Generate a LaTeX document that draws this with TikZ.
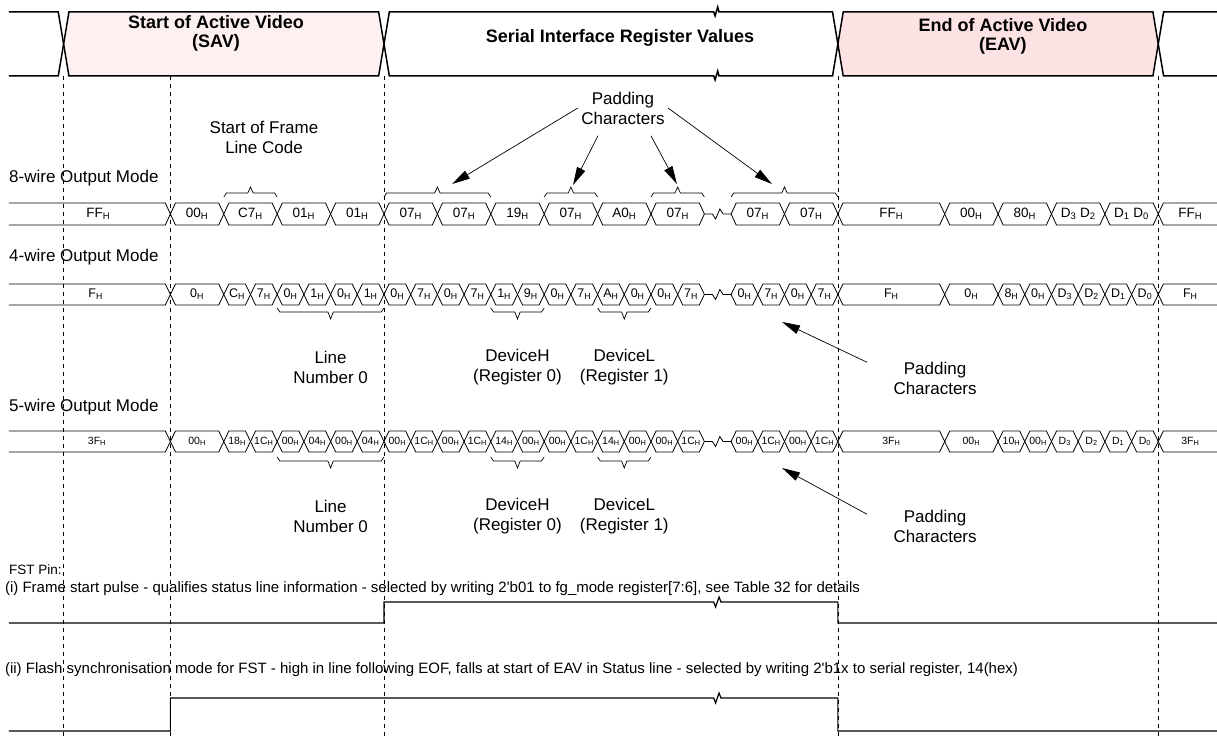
\documentclass[tikz,border=0pt]{standalone}
\usepackage{fontspec}
\setmainfont{Liberation Sans}
\usetikzlibrary{arrows.meta,positioning}
\newcommand{\hx}[1]{#1\textsubscript{H}}
\definecolor{savfill}{RGB}{253,240,240}
\definecolor{eavfill}{RGB}{252,226,226}
\tikzset{
  band/.style={line width=1.5pt},
  bus/.style={line width=0.8pt},
  wave/.style={line width=1.2pt},
  guide/.style={line width=0.6pt, dash pattern=on 4pt off 4pt},
  brk/.style={line width=0.7pt},
  callout/.style={line width=0.7pt, -{Triangle[length=18pt,width=9pt]}},
  ttl/.style={font=\fontsize{18}{19}\selectfont\bfseries, align=center},
  lbl/.style={font=\fontsize{17}{20}\selectfont, align=center},
  mode/.style={font=\fontsize{17}{20}\selectfont, anchor=west, inner sep=0pt},
  pin/.style={font=\fontsize{13.5}{16}\selectfont, anchor=west, inner sep=0pt},
  note/.style={font=\fontsize{15}{17}\selectfont, anchor=west, inner sep=0pt},
  hexa/.style={font=\fontsize{13.5}{13.5}\selectfont, inner sep=0pt},
  hexb/.style={font=\fontsize{12.5}{12.5}\selectfont, inner sep=0pt},
  hexc/.style={font=\fontsize{10.5}{10.5}\selectfont, inner sep=0pt},
}
\begin{document}
\begin{tikzpicture}[x=26.7pt, y=-1pt]
	\useasboundingbox (-2.382,0) rectangle (43.2,736);
	\def\dt{0.2}
	\def\dd{0.19}
	% guides
	\foreach \n in {0,4,12,29,41}
		\draw[guide] (\n,76) -- (\n,736);
	% top band
	\fill[savfill] (0,44) -- (\dt,12) -- (12-\dt,12) -- (12,44) -- (12-\dt,76) -- (\dt,76) -- cycle;
	\fill[eavfill] (29,44) -- (29+\dt,12) -- (41-\dt,12) -- (41,44) -- (41-\dt,76) -- (29+\dt,76) -- cycle;
	\draw[band] (-2.045,12) -- (-\dt,12) -- (0,44) -- (-\dt,76) -- (-2.045,76);
	\draw[band] (0,44) -- (\dt,12) -- (12-\dt,12) -- (12,44) -- (12-\dt,76) -- (\dt,76) -- cycle;
	\draw[band] (12,44) -- (12+\dt,12) -- (24.35,12) -- (24.4,16) -- (24.5,7) -- (24.55,12) -- (29-\dt,12) -- (29,44)
		-- (29-\dt,76) -- (24.55,76) -- (24.5,71) -- (24.4,80) -- (24.35,76) -- (12+\dt,76) -- cycle;
	\draw[band] (29,44) -- (29+\dt,12) -- (41-\dt,12) -- (41,44) -- (41-\dt,76) -- (29+\dt,76) -- cycle;
	\draw[band] (43.2,12) -- (41+\dt,12) -- (41,44) -- (41+\dt,76) -- (43.2,76);
	\node[ttl] (sav) at (5.71,33) {Start of Active Video\\(SAV)};
	\node[ttl] (sirv) at (20.84,38) {Serial Interface Register Values};
	\node[ttl] (eav) at (35.18,36) {End of Active Video\\(EAV)};
	% labels above 8-wire
	\node[lbl] (padtop) at (20.95,108) {Padding\\Characters};
	\node[lbl] (sof) at (7.506,137) {Start of Frame\\Line Code};
	\node[mode] (m8) at (-2.045,178) {8-wire Output Mode};
	\foreach \p/\q in {6/8,12/16,18/20,22/24,25/29}
		\draw[brk] (\p,197) -- (\p+0.1,193) -- ({(\p+\q)/2-0.1},193) -- ({(\p+\q)/2},187) -- ({(\p+\q)/2+0.1},193) -- (\q-0.1,193) -- (\q,197);
	\coordinate (t1) at (14.55,184);
	\coordinate (t2) at (19.08,185);
	\coordinate (t3) at (22.97,184);
	\coordinate (t4) at (26.53,184);
	\draw[callout] (padtop.west) -- (t1);
	\draw[callout] ([xshift=-25pt,yshift=-8pt]padtop.south) -- (t2);
	\draw[callout] ([xshift=28pt,yshift=-8pt]padtop.south) -- (t3);
	\draw[callout] (padtop.east) -- (t4);
	% 8-wire bus
	\draw[bus] (-2.045,203) -- (4-\dd,203) -- (4,214) -- (4-\dd,225) -- (-2.045,225);
	\node[hexa] (e0) at (1.3,214) {\hx{FF}};
	\foreach \p/\q/\t [count=\k] in {4/6/\hx{00},6/8/\hx{C7},8/10/\hx{01},10/12/\hx{01},12/14/\hx{07},14/16/\hx{07},
			16/18/\hx{19},18/20/\hx{07},20/22/\hx{A0},22/24/\hx{07},25/27/\hx{07},27/29/\hx{07},29/33/\hx{FF},
			33/35/\hx{00},35/37/\hx{80},37/39/{D\textsubscript{3} D\textsubscript{2}},39/41/{D\textsubscript{1} D\textsubscript{0}}} {
		\draw[bus] (\p,214) -- (\p+\dd,203) -- (\q-\dd,203) -- (\q,214) -- (\q-\dd,225) -- (\p+\dd,225) -- cycle;
		\node[hexa] (e\k) at ({(\p+\q)/2},214) {\t};
	}
	\draw[bus] (24,214) -- (24.3,214) -- (24.42,219) -- (24.58,209) -- (24.7,214) -- (25,214);
	\draw[bus] (43.2,203) -- (41+\dd,203) -- (41,214) -- (41+\dd,225) -- (43.2,225);
	\node[hexa] (e18) at (42.2,214) {\hx{FF}};
	% 4-wire bus
	\node[mode] (m4) at (-2.045,257) {4-wire Output Mode};
	\draw[bus] (-2.045,284) -- (4-\dd,284) -- (4,294.5) -- (4-\dd,305) -- (-2.045,305);
	\node[hexb] (f0) at (1.2,294.5) {\hx{F}};
	\foreach \p/\q/\t [count=\k] in {4/6/0,6/7/C,7/8/7,8/9/0,9/10/1,10/11/0,11/12/1,12/13/0,13/14/7,14/15/0,15/16/7,
			16/17/1,17/18/9,18/19/0,19/20/7,20/21/A,21/22/0,22/23/0,23/24/7,25/26/0,26/27/7,27/28/0,28/29/7,
			29/33/F,33/35/0,35/36/8,36/37/0} {
		\draw[bus] (\p,294.5) -- (\p+\dd,284) -- (\q-\dd,284) -- (\q,294.5) -- (\q-\dd,305) -- (\p+\dd,305) -- cycle;
		\node[hexb] (f\k) at ({(\p+\q)/2},294.5) {\hx{\t}};
	}
	\foreach \p/\q/\t [count=\k] in {37/38/3,38/39/2,39/40/1,40/41/0} {
		\draw[bus] (\p,294.5) -- (\p+\dd,284) -- (\q-\dd,284) -- (\q,294.5) -- (\q-\dd,305) -- (\p+\dd,305) -- cycle;
		\node[hexb] (fd\k) at ({(\p+\q)/2},294.5) {D\textsubscript{\t}};
	}
	\draw[bus] (24,294.5) -- (24.3,294.5) -- (24.42,299.5) -- (24.58,289.5) -- (24.7,294.5) -- (25,294.5);
	\draw[bus] (43.2,284) -- (41+\dd,284) -- (41,294.5) -- (41+\dd,305) -- (43.2,305);
	\node[hexb] (f28) at (42.2,294.5) {\hx{F}};
	\foreach \p/\q in {8/12,16/18,20/22}
		\draw[brk] (\p,308) -- (\p+0.1,312) -- ({(\p+\q)/2-0.1},312) -- ({(\p+\q)/2},319) -- ({(\p+\q)/2+0.1},312) -- (\q-0.1,312) -- (\q,308);
	\node[lbl] (ln4) at (10,367) {Line\\Number 0};
	\node[lbl] (dh4) at (17,367) {DeviceH\\(Register 0)};
	\node[lbl] (dl4) at (21,367) {DeviceL\\(Register 1)};
	\node[lbl] (pad4) at (32.64,378) {Padding\\Characters};
	\coordinate (t5) at (26.91,322);
	\draw[callout] ([xshift=-23pt,yshift=-4pt]pad4.north west) -- (t5);
	% 5-wire bus
	\node[mode] (m5) at (-2.045,407) {5-wire Output Mode};
	\draw[bus] (-2.045,431) -- (4-\dd,431) -- (4,441.5) -- (4-\dd,452) -- (-2.045,452);
	\node[hexc] (v0) at (1.25,441.5) {\hx{3F}};
	\foreach \p/\q/\t [count=\k] in {4/6/00,6/7/18,7/8/1C,8/9/00,9/10/04,10/11/00,11/12/04,12/13/00,13/14/1C,14/15/00,
			15/16/1C,16/17/14,17/18/00,18/19/00,19/20/1C,20/21/14,21/22/00,22/23/00,23/24/1C,25/26/00,26/27/1C,
			27/28/00,28/29/1C,29/33/3F,33/35/00,35/36/10,36/37/00} {
		\draw[bus] (\p,441.5) -- (\p+\dd,431) -- (\q-\dd,431) -- (\q,441.5) -- (\q-\dd,452) -- (\p+\dd,452) -- cycle;
		\node[hexc] (v\k) at ({(\p+\q)/2},441.5) {\hx{\t}};
	}
	\foreach \p/\q/\t [count=\k] in {37/38/3,38/39/2,39/40/1,40/41/0} {
		\draw[bus] (\p,441.5) -- (\p+\dd,431) -- (\q-\dd,431) -- (\q,441.5) -- (\q-\dd,452) -- (\p+\dd,452) -- cycle;
		\node[hexc] (vd\k) at ({(\p+\q)/2},441.5) {D\textsubscript{\t}};
	}
	\draw[bus] (24,441.5) -- (24.3,441.5) -- (24.42,446.5) -- (24.58,436.5) -- (24.7,441.5) -- (25,441.5);
	\draw[bus] (43.2,431) -- (41+\dd,431) -- (41,441.5) -- (41+\dd,452) -- (43.2,452);
	\node[hexc] (v28) at (42.2,441.5) {\hx{3F}};
	\foreach \p/\q in {8/12,16/18,20/22}
		\draw[brk] (\p,457) -- (\p+0.1,461) -- ({(\p+\q)/2-0.1},461) -- ({(\p+\q)/2},468) -- ({(\p+\q)/2+0.1},461) -- (\q-0.1,461) -- (\q,457);
	\node[lbl] (ln5) at (10,516) {Line\\Number 0};
	\node[lbl] (dh5) at (17,516) {DeviceH\\(Register 0)};
	\node[lbl] (dl5) at (21,516) {DeviceL\\(Register 1)};
	\node[lbl] (pad5) at (32.64,526) {Padding\\Characters};
	\coordinate (t6) at (26.91,468);
	\draw[callout] ([xshift=-23pt,yshift=-8pt]pad5.north west) -- (t6);
	% FST pin
	\node[pin] (fst) at (-2.045,570) {FST Pin:};
	\node[note] (fi) at (-2.2,589) {(i) Frame start pulse - qualifies status line information - selected by writing 2\textquotesingle b01 to fg\_mode register[7:6], see Table 32 for details};
	\draw[wave] (-2.045,623) -- (12,623) -- (12,602) -- (24.35,602) -- (24.42,607) -- (24.55,597) -- (24.62,602) -- (29,602) -- (29,623) -- (43.2,623);
	\node[note] (fii) at (-2.2,670) {(ii) Flash synchronisation mode for FST - high in line following EOF, falls at start of EAV in Status line - selected by writing 2\textquotesingle b1x to serial register, 14(hex)};
	\draw[wave] (-2.045,731) -- (4,731) -- (4,698) -- (24.35,698) -- (24.42,703) -- (24.55,693) -- (24.62,698) -- (29,698) -- (29,731) -- (43.2,731);
\end{tikzpicture}
\end{document}
